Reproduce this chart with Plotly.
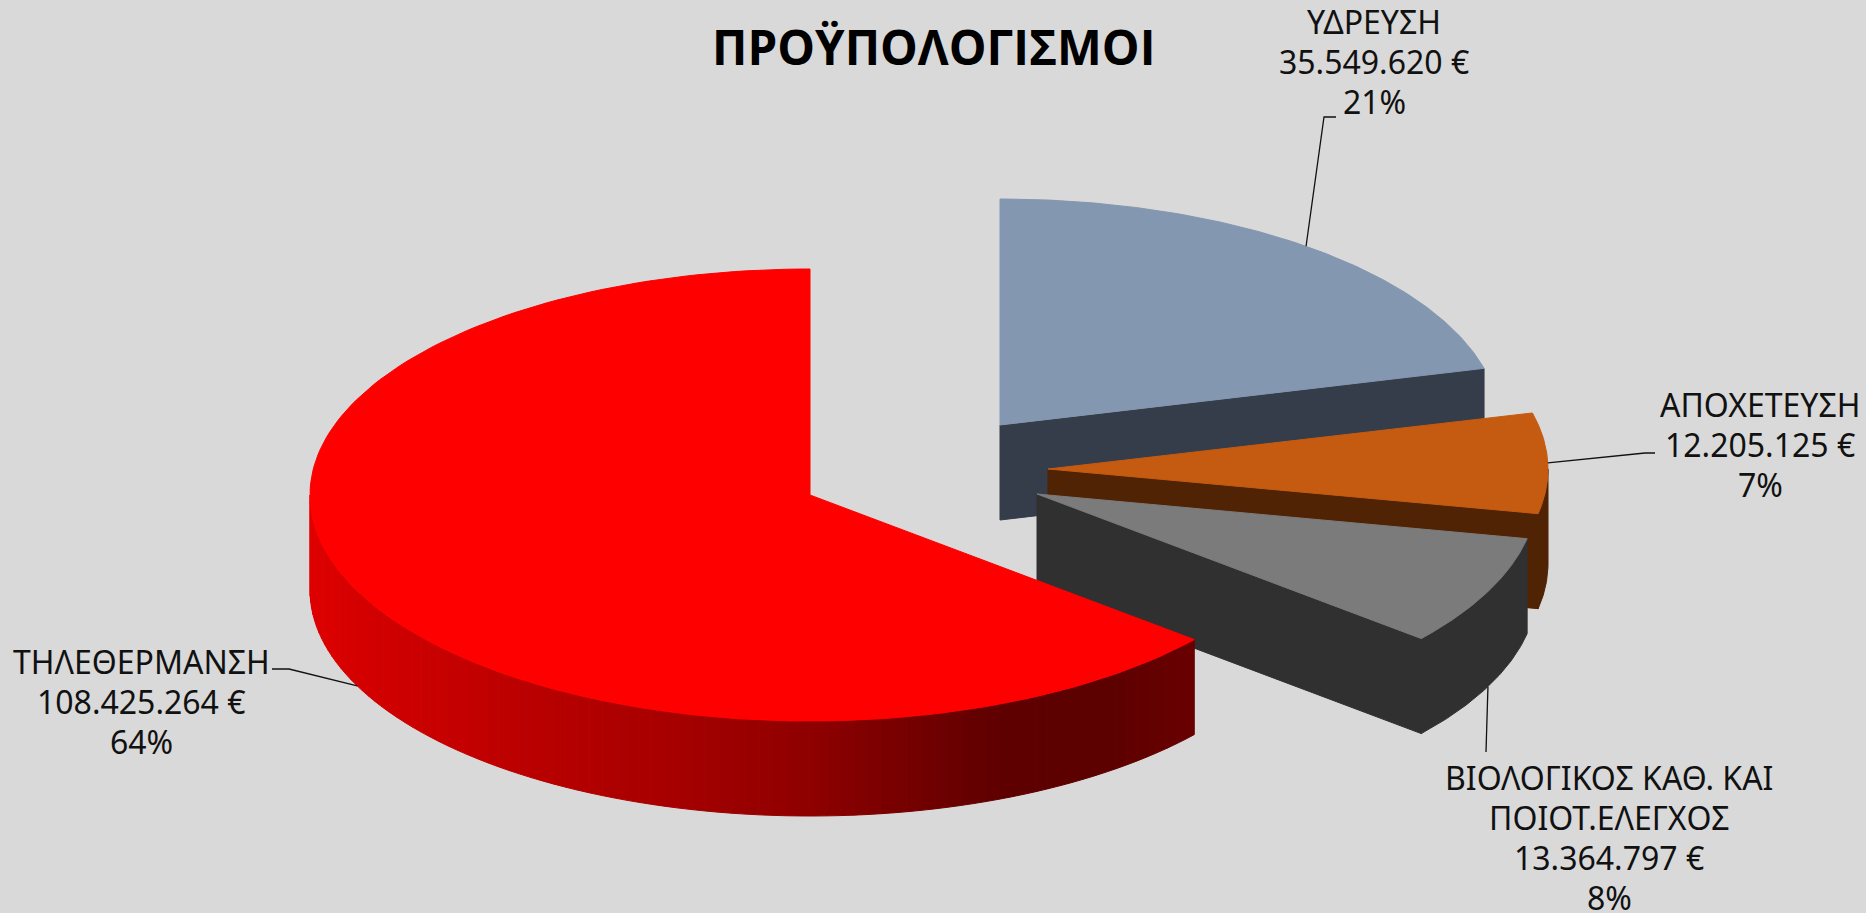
import numpy as np
import plotly.graph_objects as go

# ---- chart data ----
title_text = "ΠΡΟΫΠΟΛΟΓΙΣΜΟΙ"
categories = ["ΥΔΡΕΥΣΗ", "ΑΠΟΧΕΤΕΥΣΗ", "ΒΙΟΛΟΓΙΚΟΣ ΚΑΘ. ΚΑΙ ΠΟΙΟΤ.ΕΛΕΓΧΟΣ", "ΤΗΛΕΘΕΡΜΑΝΣΗ"]
values = [35549620, 12205125, 13364797, 108425264]
value_labels = ["35.549.620 €", "12.205.125 €", "13.364.797 €", "108.425.264 €"]
pct_labels = ["21%", "7%", "8%", "64%"]

# ---- styling / layout ----
W, H = 1866, 913
BG = "#D9D9D9"
top_colors = ["#8497B0", "#C55A11", "#7B7B7B", "#FF0000"]
side_colors = ["#343D49", "#4F2304", "#303030", None]
centers = [(1000, 425), (1048, 469), (1037, 494), (810, 495)]
RX, RY, DEPTH = 500, 226, 95
red_grad_x = [309, 360, 542, 664, 809, 997, 1100, 1195]
red_grad_r = [224, 212, 184, 168, 143, 95, 92, 106]

TXT = "Noto Sans, Lato, sans-serif"
LABEL_SIZE = 32
LINE_H = 40

label_blocks = [
    (1374, 21, [categories[0], value_labels[0], pct_labels[0]]),
    (1760, 404, [categories[1], value_labels[1], pct_labels[1]]),
    (1609, 777, ["ΒΙΟΛΟΓΙΚΟΣ ΚΑΘ. ΚΑΙ", "ΠΟΙΟΤ.ΕΛΕΓΧΟΣ", value_labels[2], pct_labels[2]]),
    (141, 661, [categories[3], value_labels[3], pct_labels[3]]),
]
leader_tails = [
    [(1324, 117), (1336, 117)],
    [(1645, 453), (1655, 453)],
    [(1486, 752)],
    [(289, 669), (272, 669)],
]

total = sum(values)
edges = np.cumsum([0] + values) / total * 2 * np.pi


def pt(cx, cy, th, dz=0):
    return cx + RX * np.sin(th), cy - RY * np.cos(th) + dz


def poly(xs, ys, color):
    return go.Scatter(x=list(xs), y=list(ys), mode="lines", fill="toself", fillcolor=color,
                      line=dict(color=color, width=1), hoverinfo="skip", showlegend=False)


def top_face(i):
    cx, cy = centers[i]
    th = np.linspace(edges[i], edges[i + 1], 160)
    xs, ys = pt(cx, cy, th)
    return poly(np.r_[cx, xs, cx], np.r_[cy, ys, cy], top_colors[i])


def end_face(i):
    cx, cy = centers[i]
    x1, y1 = pt(cx, cy, edges[i + 1])
    return poly([cx, x1, x1, cx, cx], [cy, y1, y1 + DEPTH, cy + DEPTH, cy], side_colors[i])


def arc_side(i, a, b, color, n=60):
    cx, cy = centers[i]
    th = np.linspace(a, b, n)
    xs, ys = pt(cx, cy, th)
    return poly(np.r_[xs, xs[::-1], xs[0]], np.r_[ys, ys[::-1] + DEPTH, ys[0]], color)


fig = go.Figure()
for i in range(4):
    a, b = edges[i], edges[i + 1]
    if i < 3:
        fig.add_trace(end_face(i))
        lo, hi = max(a, np.pi / 2), min(b, 3 * np.pi / 2)
        if hi > lo:
            fig.add_trace(arc_side(i, lo, hi, side_colors[i]))
    else:
        # red rim: colour changes with horizontal position
        lo, hi = a, 3 * np.pi / 2
        steps = np.linspace(lo, hi, 91)
        for s0, s1 in zip(steps[:-1], steps[1:]):
            xm = pt(*centers[i], (s0 + s1) / 2)[0]
            r = int(np.interp(xm, red_grad_x, red_grad_r))
            fig.add_trace(arc_side(i, s0, s1, f"rgb({r},0,0)", n=4))
    fig.add_trace(top_face(i))

# leader lines start on the rim at each slice's mid-angle
for i, tail in enumerate(leader_tails):
    mid = (edges[i] + edges[i + 1]) / 2
    dz = DEPTH if np.cos(mid) < 0 else 0
    x0, y0 = pt(*centers[i], mid, dz)
    xs = [x0] + [p[0] for p in tail]
    ys = [y0] + [p[1] for p in tail]
    fig.add_trace(go.Scatter(x=xs, y=ys, mode="lines", line=dict(color="#111111", width=1.3),
                             hoverinfo="skip", showlegend=False))

annotations = [dict(x=933, y=46, text=f"<b>{title_text}</b>", showarrow=False, xanchor="center",
                    yanchor="middle", font=dict(family="Open Sans, Noto Sans, sans-serif", size=47.5, color="#000000"))]
for cx, cy, lines in label_blocks:
    for k, line in enumerate(lines):
        annotations.append(dict(x=cx, y=cy + k * LINE_H, text=line, showarrow=False, xanchor="center",
                                yanchor="middle", font=dict(family=TXT, size=LABEL_SIZE, color="#111111")))

fig.update_layout(
    width=W, height=H, margin=dict(l=0, r=0, t=0, b=0), paper_bgcolor=BG, plot_bgcolor=BG,
    xaxis=dict(range=[0, W], visible=False, fixedrange=True),
    yaxis=dict(range=[H, 0], visible=False, fixedrange=True),
    annotations=annotations, showlegend=False,
)
fig.write_html("out.html", config={"displayModeBar": False},
               post_script="document.body.style.margin='0';document.body.style.background='#D9D9D9';")
